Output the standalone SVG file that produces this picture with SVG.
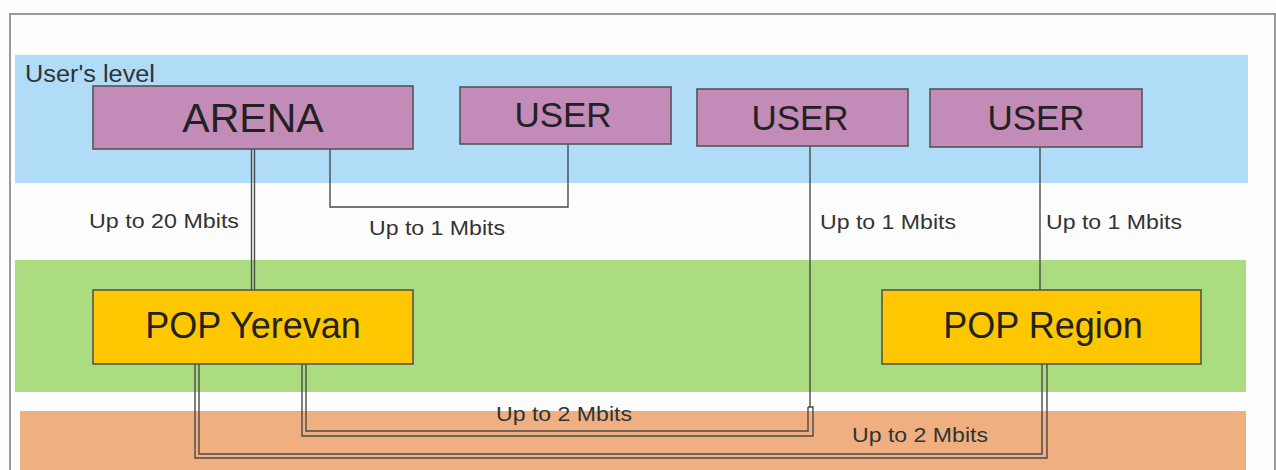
<svg xmlns="http://www.w3.org/2000/svg" width="1276" height="470" viewBox="0 0 1276 470">
<style>
.band{stroke:none}
.node rect{stroke:#555;stroke-width:1.6}
.user rect{fill:#c28bb8}
.pop rect{fill:#fec700}
.node text{font-family:"Liberation Sans",Arial,sans-serif;fill:#222;text-anchor:middle}
.lbl{font-family:"Liberation Sans",Arial,sans-serif;font-size:21px;fill:#333}
#connectors path{fill:none;stroke:#4a4a4a;stroke-width:1.4}
</style>
<rect x="0" y="0" width="1276" height="470" fill="#fdfdfd"/>
<rect x="10" y="14" width="1265" height="470" fill="none" stroke="#9a9a9a" stroke-width="2"/>
<g id="bands">
<rect class="band" x="15" y="55" width="1233" height="128" fill="#b0dcf8"/>
<rect class="band" x="15" y="260" width="1231" height="132" fill="#acdc80"/>
<rect class="band" x="20" y="411" width="1226" height="60" fill="#efaf80"/>
<text class="lbl" x="25" y="82" font-size="23" style="font-size:23px" textLength="130" lengthAdjust="spacingAndGlyphs">User's level</text>
</g>
<g id="connectors">
<path d="M251.5,149 V290"/>
<path d="M254.5,149 V290"/>
<path d="M330,149 V207 H568 V144"/>
<path d="M810,146 V407"/>
<path d="M302,364 V436 H813 V407 H808"/>
<path d="M306,364 V431 H808 V407"/>
<path d="M1040,147 V290"/>
<path d="M195,364 V458 H1047 V364"/>
<path d="M199,364 V454 H1042 V364"/>
</g>
<g id="labels">
<text class="lbl" x="89" y="228" textLength="150" lengthAdjust="spacingAndGlyphs">Up to 20 Mbits</text>
<text class="lbl" x="369" y="235" textLength="136" lengthAdjust="spacingAndGlyphs">Up to 1 Mbits</text>
<text class="lbl" x="820" y="229" textLength="136" lengthAdjust="spacingAndGlyphs">Up to 1 Mbits</text>
<text class="lbl" x="1046" y="229" textLength="136" lengthAdjust="spacingAndGlyphs">Up to 1 Mbits</text>
<text class="lbl" x="496" y="421" textLength="136" lengthAdjust="spacingAndGlyphs">Up to 2 Mbits</text>
<text class="lbl" x="852" y="442" textLength="136" lengthAdjust="spacingAndGlyphs">Up to 2 Mbits</text>
</g>
<g id="arena" class="node user">
<rect x="93" y="86" width="320" height="63"/>
<text x="253" y="132" font-size="41">ARENA</text>
</g>
<g id="user1" class="node user">
<rect x="460" y="87" width="211" height="57"/>
<text x="563" y="127" font-size="35">USER</text>
</g>
<g id="user2" class="node user">
<rect x="697" y="89" width="211" height="57"/>
<text x="800" y="130" font-size="35">USER</text>
</g>
<g id="user3" class="node user">
<rect x="930" y="89" width="212" height="58"/>
<text x="1036" y="130" font-size="35">USER</text>
</g>
<g id="pop-yerevan" class="node pop">
<rect x="93" y="290" width="320" height="74"/>
<text x="253" y="338" font-size="36">POP Yerevan</text>
</g>
<g id="pop-region" class="node pop">
<rect x="882" y="290" width="319" height="74"/>
<text x="1043" y="338" font-size="36">POP Region</text>
</g>
</svg>
